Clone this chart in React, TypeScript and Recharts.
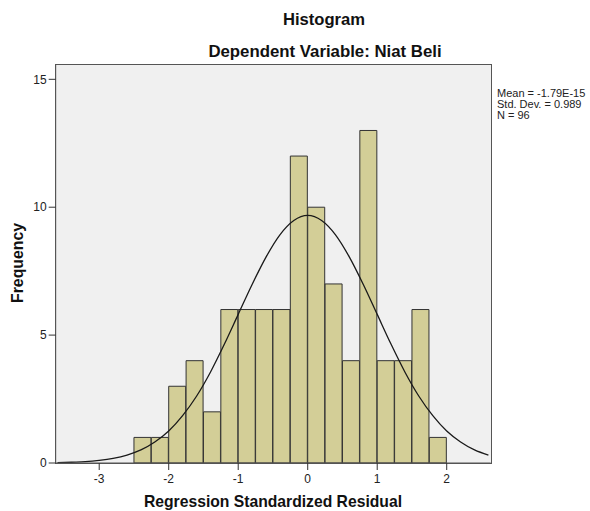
import React from 'react';
import { ComposedChart, Bar, Line, XAxis, YAxis } from 'recharts';

// bin midpoints (bin width 0.25) and frequencies
const binMids = [
  -2.375, -2.125, -1.875, -1.625, -1.375, -1.125, -0.875, -0.625, -0.375,
  -0.125, 0.125, 0.375, 0.625, 0.875, 1.125, 1.375, 1.625, 1.875,
];
const counts = [1, 1, 3, 4, 2, 6, 6, 6, 6, 12, 10, 7, 4, 13, 4, 4, 6, 1];

const curveX = [
  -3.6, -3.4, -3.2, -3.0, -2.8, -2.6, -2.4, -2.2, -2.0, -1.8, -1.6, -1.4, -1.2, -1.0, -0.8, -0.6,
  -0.4, -0.2, 0, 0.2, 0.4, 0.6, 0.8, 1.0, 1.2, 1.4, 1.6, 1.8, 2.0, 2.2, 2.4, 2.6,
];
const curveY = [
  0.01, 0.03, 0.05, 0.1, 0.18, 0.31, 0.51, 0.82, 1.25, 1.85, 2.61, 3.55, 4.64, 5.81, 6.98, 8.05,
  8.92, 9.48, 9.68, 9.48, 8.92, 8.05, 6.98, 5.81, 4.64, 3.55, 2.61, 1.85, 1.25, 0.82, 0.51, 0.31,
];

const xTicks = [-3, -2, -1, 0, 1, 2];
const yTicks = [0, 5, 10, 15];
const statLines = ['Mean = -1.79E-15', 'Std. Dev. = 0.989', 'N = 96'];

const barRows = binMids.map((x, i) => ({ x, count: counts[i] }));
const curveRows = curveX.map((x, i) => ({ cx: x, curve: curveY[i] }));

const FONT = '"Liberation Sans", Arial, sans-serif';
const W = 590;
const H = 511;
const plot = { left: 55.7, top: 65, right: 490.7, bottom: 463 };
const Y_AXIS_W = 40;
const X_AXIS_H = 30;
const X_DOMAIN: [number, number] = [-3.626, 2.633];

export default function App() {
  return (
    <div style={{ position: 'absolute', left: 0, top: 0, width: W, height: H, background: '#fff', fontFamily: FONT }}>
      <div
        style={{
          position: 'absolute',
          left: plot.left - 1,
          top: plot.top - 1,
          width: plot.right - plot.left,
          height: plot.bottom - plot.top,
          background: '#f0f0f0',
          border: '1.5px solid #555',
          boxSizing: 'content-box',
        }}
      />
      <div style={{ position: 'absolute', left: 0, top: 0 }}>
        <ComposedChart
          width={W}
          height={H}
          data={barRows}
          margin={{
            top: plot.top,
            left: plot.left - Y_AXIS_W,
            right: W - plot.right,
            bottom: H - plot.bottom - X_AXIS_H,
          }}
          barCategoryGap={0}
          barGap={0}
        >
          <XAxis
            type="number"
            dataKey="x"
            domain={X_DOMAIN}
            allowDataOverflow
            ticks={xTicks}
            height={X_AXIS_H}
            tickSize={7}
            tickMargin={4}
            stroke="#555"
            tick={{ fill: '#222', fontSize: 12, fontFamily: FONT }}
            tickLine={{ stroke: '#333' }}
          />
          <XAxis xAxisId="curve" type="number" dataKey="cx" domain={X_DOMAIN} allowDataOverflow hide />
          <YAxis
            type="number"
            domain={[0, 15.56]}
            allowDataOverflow
            ticks={yTicks}
            width={Y_AXIS_W}
            tickSize={7}
            tickMargin={2}
            stroke="#555"
            tick={{ fill: '#222', fontSize: 12, fontFamily: FONT }}
            tickLine={{ stroke: '#333' }}
          />
          <Bar dataKey="count" fill="#d3ce97" stroke="#333" strokeWidth={1} isAnimationActive={false} />
          <Line
            xAxisId="curve"
            data={curveRows}
            type="monotone"
            dataKey="curve"
            stroke="#1a1a1a"
            strokeWidth={1.3}
            dot={false}
            activeDot={false}
            isAnimationActive={false}
          />
        </ComposedChart>
      </div>
      <svg width={W} height={H} style={{ position: 'absolute', left: 0, top: 0, pointerEvents: 'none' }}>
        <text x={324} y={25} textAnchor="middle" fontSize={16.6} fontWeight="bold" fill="#111" fontFamily={FONT}>
          Histogram
        </text>
        <text x={325} y={57} textAnchor="middle" fontSize={16.8} fontWeight="bold" fill="#111" fontFamily={FONT}>
          Dependent Variable: Niat Beli
        </text>
        {statLines.map((s, i) => (
          <text key={s} x={497} y={97 + i * 10.8} fontSize={11} fill="#222" fontFamily={FONT}>
            {s}
          </text>
        ))}
        <text
          x={22.5}
          y={263}
          transform="rotate(-90 22.5 263)"
          textAnchor="middle"
          fontSize={15.8}
          fontWeight="bold"
          fill="#111"
          fontFamily={FONT}
        >
          Frequency
        </text>
        <text x={273} y={507} textAnchor="middle" fontSize={15.7} fontWeight="bold" fill="#111" fontFamily={FONT}>
          Regression Standardized Residual
        </text>
      </svg>
    </div>
  );
}
